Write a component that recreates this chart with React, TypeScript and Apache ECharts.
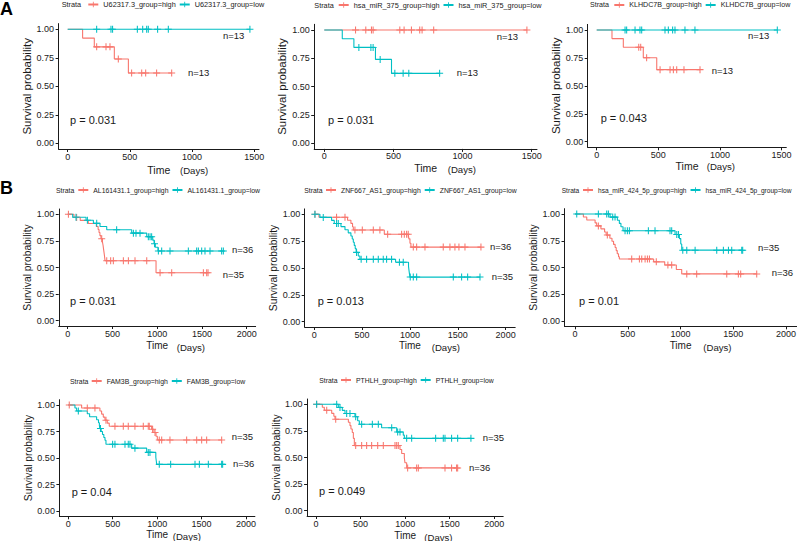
import React, { useEffect, useRef } from "react";
import * as echarts from "echarts";

// ---------------- data ----------------
const genes = ["U62317.3", "hsa_miR_375", "KLHDC7B", "AL161431.1", "ZNF667_AS1", "hsa_miR_424_5p", "FAM3B", "PTHLH"];
const pValueLabels = ["p = 0.031", "p = 0.031", "p = 0.043", "p = 0.031", "p = 0.013", "p = 0.01", "p = 0.04", "p = 0.049"];
const highN = [13, 13, 13, 35, 36, 36, 35, 36];
const lowN = [13, 13, 13, 36, 35, 35, 36, 35];
const xTicksA = [0, 500, 1000, 1500];
const xTicksB = [0, 500, 1000, 1500, 2000];
const yTicks = [0, 0.25, 0.5, 0.75, 1];

// events: [time, survival after event]; censored: times
const a1HighEvents = [[120, 0.923], [214, 0.846], [375, 0.74], [488, 0.617]];
const a1HighCensored = [233, 308, 340, 407, 514, 595, 627, 715, 836];
const a1LowEvents: number[][] = [];
const a1LowCensored = [233, 348, 361, 560, 603, 635, 648, 723, 809, 1465];

const a2HighEvents: number[][] = [];
const a2HighCensored = [226, 300, 341, 353, 546, 577, 630, 690, 707, 791, 1465];
const a2LowEvents = [[130, 0.923], [214, 0.846], [370, 0.74], [486, 0.617]];
const a2LowCensored = [250, 337, 353, 404, 510, 570, 611, 834];

const a3HighEvents = [[124, 0.923], [216, 0.846], [378, 0.752], [487, 0.645]];
const a3HighCensored = [341, 357, 405, 514, 595, 622, 649, 708, 838];
const a3LowEvents: number[][] = [];
const a3LowCensored = [230, 243, 311, 351, 365, 554, 581, 616, 635, 716, 797, 1465];

const b1HighEvents = [[70, 0.971], [140, 0.943], [230, 0.914], [320, 0.886], [340, 0.857], [350, 0.829], [360, 0.8], [372, 0.771], [388, 0.74], [395, 0.709], [400, 0.678], [405, 0.647], [410, 0.616], [417, 0.563], [987, 0.45]];
const b1HighCensored = [8, 100, 380, 436, 480, 510, 622, 678, 752, 883, 1032, 1162, 1516, 1553, 1568];
const b1LowEvents = [[56, 0.972], [205, 0.944], [287, 0.915], [361, 0.885], [436, 0.855], [715, 0.823], [883, 0.79], [950, 0.757], [965, 0.724], [979, 0.69], [1009, 0.655]];
const b1LowCensored = [93, 220, 324, 547, 734, 763, 808, 901, 920, 938, 970, 1013, 1050, 1143, 1348, 1441, 1460, 1497, 1534, 1590, 1720, 1739];

const b2HighEvents = [[49, 0.972], [348, 0.944], [383, 0.915], [400, 0.884], [408, 0.854], [732, 0.814], [989, 0.771], [1000, 0.73], [1010, 0.694]];
const b2HighCensored = [7, 233, 321, 425, 502, 617, 686, 767, 913, 941, 965, 982, 1035, 1070, 1157, 1348, 1418, 1470, 1512, 1575, 1742];
const b2LowEvents = [[59, 0.971], [181, 0.943], [209, 0.914], [279, 0.885], [321, 0.856], [355, 0.827], [383, 0.798], [397, 0.769], [408, 0.74], [418, 0.71], [428, 0.68], [438, 0.645], [460, 0.612], [477, 0.58], [850, 0.553], [985, 0.515], [990, 0.478], [995, 0.445], [1000, 0.415]];
const b2LowCensored = [7, 94, 233, 251, 442, 490, 547, 617, 669, 721, 756, 808, 890, 930, 1003, 1035, 1070, 1453, 1540, 1603, 1732];

const b3HighEvents = [[79, 0.972], [111, 0.944], [190, 0.917], [205, 0.889], [245, 0.861], [280, 0.832], [295, 0.803], [330, 0.774], [350, 0.745], [365, 0.716], [380, 0.687], [390, 0.658], [400, 0.629], [412, 0.6], [420, 0.58], [745, 0.553], [850, 0.524], [960, 0.482], [1011, 0.44]];
const b3HighCensored = [221, 306, 537, 610, 632, 664, 686, 705, 770, 880, 916, 1059, 1153, 1438, 1548, 1570, 1722];
const b3LowEvents = [[332, 0.971], [401, 0.942], [420, 0.912], [435, 0.881], [455, 0.843], [948, 0.808], [989, 0.77], [1002, 0.72], [1011, 0.662]];
const b3LowCensored = [16, 221, 300, 316, 357, 379, 474, 496, 515, 695, 758, 900, 916, 964, 980, 1021, 1059, 1138, 1343, 1406, 1454, 1485, 1580, 1589];

const b4HighEvents = [[150, 0.971], [356, 0.943], [375, 0.914], [394, 0.886], [413, 0.857], [439, 0.829], [461, 0.8], [938, 0.771], [964, 0.74], [987, 0.705], [1002, 0.67]];
const b4HighCensored = [11, 214, 300, 424, 525, 619, 675, 750, 844, 900, 911, 949, 976, 1024, 1051, 1144, 1332, 1445, 1501, 1557, 1726];
const b4LowEvents = [[75, 0.972], [94, 0.944], [214, 0.917], [240, 0.889], [319, 0.861], [340, 0.833], [350, 0.806], [355, 0.778], [370, 0.75], [385, 0.722], [400, 0.694], [413, 0.667], [424, 0.63], [713, 0.593], [882, 0.553], [985, 0.507], [990, 0.474], [995, 0.44]];
const b4LowCensored = [113, 362, 499, 525, 638, 675, 694, 750, 900, 919, 1024, 1152, 1426, 1475, 1576, 1726, 1737];

const b5HighEvents = [[71, 0.972], [93, 0.944], [176, 0.915], [200, 0.888], [213, 0.86], [363, 0.831], [381, 0.8], [392, 0.768], [407, 0.735], [419, 0.68], [430, 0.612], [942, 0.575], [961, 0.537], [991, 0.495], [998, 0.45], [1017, 0.402]];
const b5HighCensored = [7, 120, 221, 445, 512, 568, 624, 692, 755, 886, 905, 923, 1028, 1129, 1148, 1447, 1521, 1577, 1589];
const b5LowEvents = [[250, 0.971], [295, 0.943], [325, 0.914], [437, 0.883], [467, 0.846], [486, 0.812], [736, 0.78], [905, 0.74], [979, 0.71], [991, 0.68]];
const b5LowCensored = [7, 232, 269, 344, 381, 445, 512, 632, 699, 849, 916, 942, 1017, 1073, 1342, 1428, 1447, 1521, 1589, 1738];

const highEvents = [a1HighEvents, a2HighEvents, a3HighEvents, b1HighEvents, b2HighEvents, b3HighEvents, b4HighEvents, b5HighEvents];
const highCensored = [a1HighCensored, a2HighCensored, a3HighCensored, b1HighCensored, b2HighCensored, b3HighCensored, b4HighCensored, b5HighCensored];
const lowEvents = [a1LowEvents, a2LowEvents, a3LowEvents, b1LowEvents, b2LowEvents, b3LowEvents, b4LowEvents, b5LowEvents];
const lowCensored = [a1LowCensored, a2LowCensored, a3LowCensored, b1LowCensored, b2LowCensored, b3LowCensored, b4LowCensored, b5LowCensored];

// ---------------- layout / style ----------------
const RED = "#F8766D";
const CYAN = "#00BFC4";
const INK = "#1a1a1a";
const FONT = "'Liberation Sans', Arial, Helvetica, sans-serif";
const PLUS = "path://M0,3.4H8V4.6H0Z M3.4,0H4.6V8H3.4Z";

type Layout = {
  left: number; top: number; width: number; height: number;
  xMin: number; xMax: number; ticks: number[];
  yGap: number; xGap: number; ySize: number; xSize: number;
  strataX: number; keyX: number; legY: number; legFont: number;
  highPos: number[]; lowPos: number[]; pPos: number[]; daysPos: number[];
};

const layouts: Layout[] = [
  { left: 58.6, top: 23.6, width: 200.4, height: 125.4, xMin: -73, xMax: 1538, ticks: xTicksA, yGap: 21.5, xGap: 15, ySize: 11.5, xSize: 10.5, strataX: 61.7, keyX: 87.3, legY: 4.5, legFont: 7.3, highPos: [188, 72.7], lowPos: [223, 35], pPos: [70, 120], daysPos: [180, 170] },
  { left: 314.2, top: 24.3, width: 222.8, height: 124.6, xMin: -73, xMax: 1538, ticks: xTicksA, yGap: 22.7, xGap: 13.5, ySize: 11.5, xSize: 10.5, strataX: 314.3, keyX: 337.7, legY: 5, legFont: 7.3, highPos: [496.7, 36.7], lowPos: [456.7, 72.7], pPos: [328, 120], daysPos: [447.7, 169.5] },
  { left: 587.7, top: 24.4, width: 198.6, height: 122.9, xMin: -73, xMax: 1538, ticks: xTicksA, yGap: 21.2, xGap: 13.5, ySize: 11.5, xSize: 10.5, strataX: 590, keyX: 613.3, legY: 5, legFont: 7.1, highPos: [711.7, 70], lowPos: [748, 35], pPos: [600.7, 118.3], daysPos: [706.7, 166.7] },
  { left: 58.75, top: 209, width: 196.9, height: 117, xMin: -100, xMax: 2100, ticks: xTicksB, yGap: 21, xGap: 14.5, ySize: 10.3, xSize: 10, strataX: 56, keyX: 77.3, legY: 190, legFont: 6.85, highPos: [222.7, 274.3], lowPos: [232, 249], pPos: [70, 301], daysPos: [176.7, 347] },
  { left: 304.7, top: 208.9, width: 210.5, height: 118.1, xMin: -100, xMax: 2100, ticks: xTicksB, yGap: 22, xGap: 13.5, ySize: 10.3, xSize: 10, strataX: 304.3, keyX: 325, legY: 190, legFont: 6.85, highPos: [490, 246], lowPos: [491.7, 276.7], pPos: [317.7, 301], daysPos: [431.7, 347] },
  { left: 564.5, top: 208.65, width: 232.1, height: 117.7, xMin: -100, xMax: 2100, ticks: xTicksB, yGap: 20.2, xGap: 14, ySize: 10.3, xSize: 10, strataX: 561.7, keyX: 582, legY: 190, legFont: 6.6, highPos: [771.7, 272.3], lowPos: [758, 247.7], pPos: [579, 301], daysPos: [703.3, 347] },
  { left: 59.4, top: 399.7, width: 195.5, height: 116.6, xMin: -100, xMax: 2100, ticks: xTicksB, yGap: 21.7, xGap: 13.5, ySize: 10.3, xSize: 10, strataX: 70, keyX: 90.7, legY: 381, legFont: 6.9, highPos: [231.7, 436], lowPos: [233, 463.3], pPos: [71.7, 491.7], daysPos: [172.7, 536] },
  { left: 307.1, top: 399, width: 196.1, height: 117.4, xMin: -100, xMax: 2100, ticks: xTicksB, yGap: 21.1, xGap: 14, ySize: 10.3, xSize: 10, strataX: 319.3, keyX: 340, legY: 380, legFont: 6.85, highPos: [469, 467.7], lowPos: [482.7, 437.7], pPos: [319, 491], daysPos: [424.3, 537] },
];

function curveData(events: number[][], censored: number[]) {
  const merged = [
    ...events.map((e) => ({ t: e[0], s: e[1], ev: true })),
    ...censored.map((c) => ({ t: c, s: 0, ev: false })),
  ].sort((a, b) => a.t - b.t || (a.ev ? -1 : 1));
  const pts: any[] = [{ value: [0, 1], symbol: "none" }];
  let s = 1;
  for (const m of merged) {
    if (m.ev) {
      s = m.s;
      pts.push({ value: [m.t, s], symbol: "none" });
    } else {
      pts.push({ value: [m.t, s] });
    }
  }
  return pts;
}

function textEl(text: string, x: number, y: number, size: number, extra: any = {}) {
  return {
    type: "text",
    x,
    y,
    silent: true,
    style: {
      text,
      fontSize: size,
      fontFamily: FONT,
      fill: INK,
      align: "left",
      verticalAlign: "middle",
      textAlign: "left",
      textVerticalAlign: "middle",
      ...extra,
    },
  };
}

function buildOption() {
  const grid = layouts.map((L) => ({ left: L.left, top: L.top, width: L.width, height: L.height, containLabel: false }));
  const xAxis = layouts.map((L, i) => ({
    gridIndex: i,
    type: "value",
    min: L.xMin,
    max: L.xMax,
    axisLine: { show: true, onZero: false, lineStyle: { color: INK, width: 1 } },
    axisTick: { show: true, length: 3, customValues: L.ticks, lineStyle: { color: INK, width: 1 } },
    axisLabel: {
      show: true,
      customValues: L.ticks,
      fontSize: 9,
      color: INK,
      margin: 3,
      fontFamily: FONT,
      formatter: (v: number) => String(v),
    },
    splitLine: { show: false },
    name: "Time",
    nameLocation: "middle",
    nameGap: L.xGap,
    nameTextStyle: { fontSize: L.xSize, color: INK, fontFamily: FONT },
  }));
  const yAxis = layouts.map((L, i) => ({
    gridIndex: i,
    type: "value",
    min: -0.05,
    max: 1.05,
    axisLine: { show: true, onZero: false, lineStyle: { color: INK, width: 1 } },
    axisTick: { show: true, length: 3, customValues: yTicks, lineStyle: { color: INK, width: 1 } },
    axisLabel: {
      show: true,
      customValues: yTicks,
      fontSize: 9,
      color: INK,
      margin: 4.5,
      fontFamily: FONT,
      formatter: (v: number) => v.toFixed(2),
    },
    splitLine: { show: false },
    name: "Survival probability",
    nameLocation: "middle",
    nameGap: L.yGap,
    nameTextStyle: { fontSize: L.ySize, color: INK, fontFamily: FONT },
  }));

  const series: any[] = [];
  genes.forEach((g, i) => {
    const mk = (name: string, color: string, data: any[]) => ({
      type: "line",
      name,
      xAxisIndex: i,
      yAxisIndex: i,
      step: "end",
      data,
      symbol: PLUS,
      symbolSize: 7,
      showSymbol: true,
      showAllSymbol: true,
      lineStyle: { color, width: 1.1 },
      itemStyle: { color },
      emphasis: { disabled: true },
      silent: true,
    });
    series.push(mk(`${g}_group=high`, RED, curveData(highEvents[i], highCensored[i])));
    series.push(mk(`${g}_group=low`, CYAN, curveData(lowEvents[i], lowCensored[i])));
  });

  const legend = layouts.map((L, i) => ({
    data: [`${genes[i]}_group=high`, `${genes[i]}_group=low`],
    left: L.keyX,
    top: L.legY - 3.5,
    width: 400,
    orient: "horizontal",
    padding: 0,
    itemWidth: 10,
    itemHeight: 7,
    itemGap: 3,
    selectedMode: false,
    textStyle: { fontSize: L.legFont, color: INK, fontFamily: FONT },
  }));

  const graphic: any[] = [
    textEl("A", 0, 8.5, 18, { fontWeight: "bold", fill: "#000" }),
    textEl("B", 0, 187.5, 18, { fontWeight: "bold", fill: "#000" }),
  ];
  layouts.forEach((L, i) => {
    graphic.push(textEl("Strata", L.strataX, L.legY, L.legFont));
    graphic.push(textEl(`n=${highN[i]}`, L.highPos[0], L.highPos[1], 9.5));
    graphic.push(textEl(`n=${lowN[i]}`, L.lowPos[0], L.lowPos[1], 9.5));
    graphic.push(textEl(pValueLabels[i], L.pPos[0], L.pPos[1], 11));
    graphic.push(textEl("(Days)", L.daysPos[0], L.daysPos[1], 9.6));
  });

  return {
    animation: false,
    backgroundColor: "#ffffff",
    textStyle: { fontFamily: FONT },
    grid,
    xAxis,
    yAxis,
    legend,
    series,
    graphic,
  };
}

export default function App() {
  const ref = useRef<HTMLDivElement>(null);
  useEffect(() => {
    if (!ref.current) return;
    const chart = echarts.init(ref.current, undefined, { renderer: "svg" });
    chart.setOption(buildOption() as any);
    return () => chart.dispose();
  }, []);
  return (
    <div
      ref={ref}
      style={{ position: "fixed", left: 0, top: 0, width: 800, height: 541, background: "#fff" }}
    />
  );
}
